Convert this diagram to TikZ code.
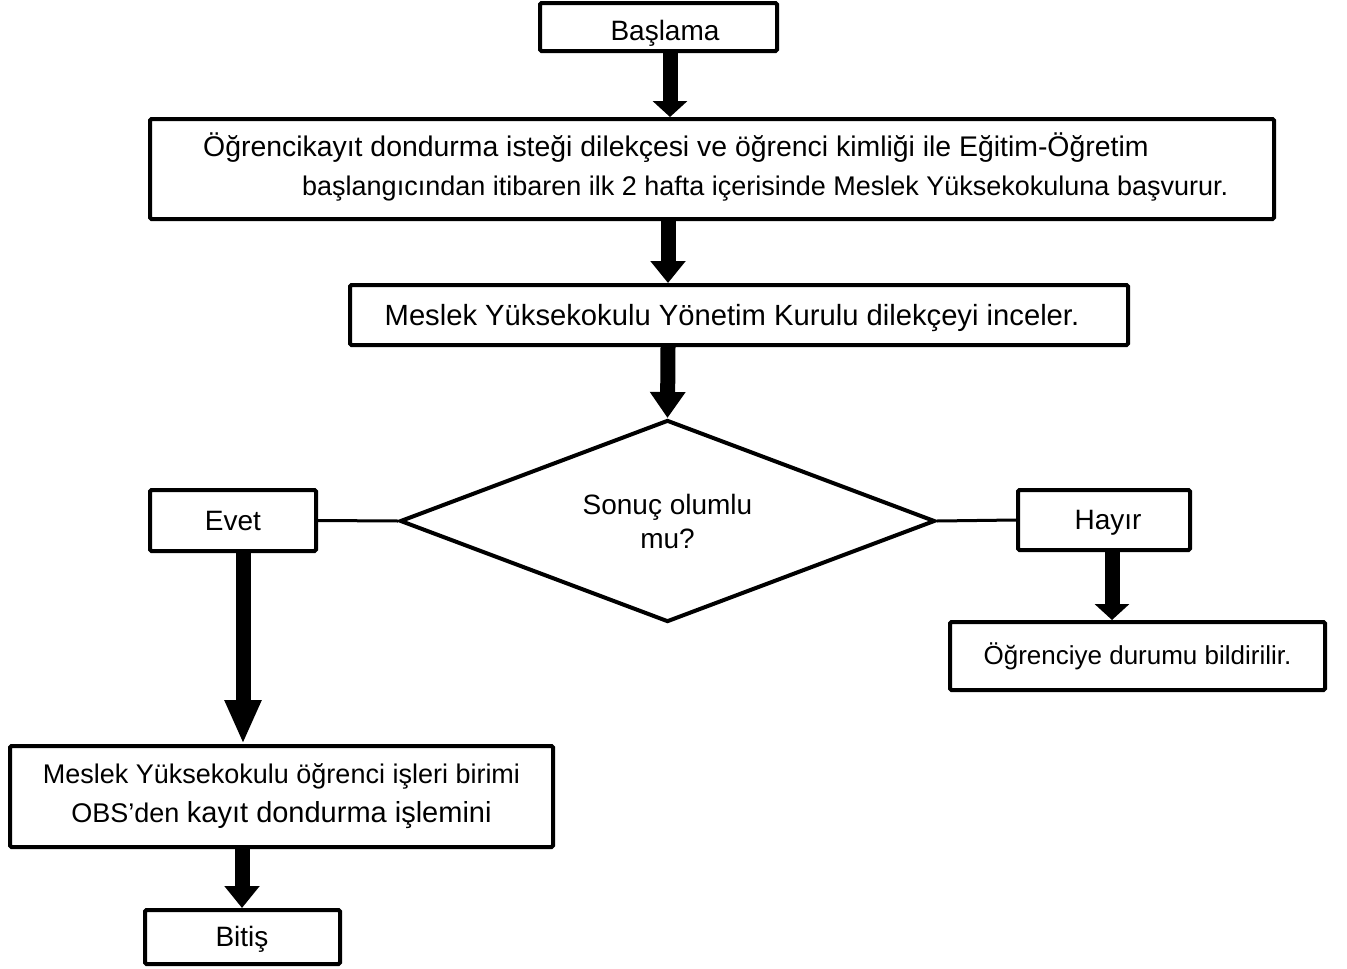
\documentclass[tikz,border=0pt]{standalone}
\usepackage{fontspec}
\setmainfont{Liberation Sans}
\usetikzlibrary{shapes.geometric,arrows.meta}

\tikzset{
  box/.style={draw, line width=4pt, rounded corners=1.5pt, inner sep=0pt, fill=white},
  txt/.style={inner sep=0pt, font=\fontsize{28}{34}\selectfont},
  bigarrow/.style={line width=15pt, -{Triangle[width=34pt, length=#1]}},
  bigarrow/.default=22pt,
  link/.style={line width=3pt}
}

\begin{document}
\begin{tikzpicture}[x=1pt,y=1pt,yscale=-1,xscale=1]
\useasboundingbox (0,0) rectangle (1347,969);

%Shape: Rectangle [start]
\node[box, minimum width=237, minimum height=48] (start) at (658.5,27) {};
% Text Node
\node[txt] (starttext) at (665,33) {Başlama};
%Shape: Rectangle [request]
\node[box, minimum width=1124, minimum height=100] (request) at (712,169) {};
% Text Node
\node[txt, anchor=west, font=\fontsize{28.4}{33}\selectfont] (req1) at (203,148) {Öğrencikayıt dondurma isteği dilekçesi ve öğrenci kimliği ile Eğitim-Öğretim};
% Text Node
\node[txt, anchor=west, font=\fontsize{27}{32}\selectfont] (req2) at (302,189) {başlangıcından itibaren ilk 2 hafta içerisinde Meslek Yüksekokuluna başvurur.};
%Shape: Rectangle [review]
\node[box, minimum width=778, minimum height=60] (review) at (739,315) {};
% Text Node
\node[txt, font=\fontsize{29.2}{34}\selectfont] (revtext) at (732,318) {Meslek Yüksekokulu Yönetim Kurulu dilekçeyi inceler.};
%Shape: Diamond [decision]
\node[box, rounded corners=0pt, diamond, minimum width=535, minimum height=202, aspect=2.65, txt, align=center] (decision) at (667.5,521) {Sonuç olumlu\\mu?};
%Shape: Rectangle [yes]
\node[box, minimum width=166, minimum height=61, txt] (yes) at (233,520.5) {Evet};
%Shape: Rectangle [no]
\node[box, minimum width=172, minimum height=60] (no) at (1104,520) {};
% Text Node
\node[txt] (notext) at (1108,523) {Hayır};
%Shape: Rectangle [notify]
\node[box, minimum width=375, minimum height=68, txt, font=\fontsize{26}{31}\selectfont] (notify) at (1137.5,656) {Öğrenciye durumu bildirilir.};
%Shape: Rectangle [record]
\node[box, minimum width=543, minimum height=101, txt, align=center, font=\fontsize{27}{39}\selectfont] (record) at (281.5,796.5) {Meslek Yüksekokulu öğrenci işleri birimi\\OBS’den {\fontsize{29}{39}\selectfont kayıt dondurma işlemini}};
%Shape: Rectangle [finish]
\node[box, minimum width=195, minimum height=54] (finish) at (242.5,937) {};
% Text Node
\node[txt] (fintext) at (242,939) {Bitiş};

%Straight Lines
\draw[bigarrow=16pt] (670,0 |- start.south) -- (670,0 |- request.north);
\draw[bigarrow] (668,0 |- request.south) -- (668,0 |- review.north);
\draw[bigarrow=26pt] (668,0 |- review.south) -- (decision.north);
\draw[link] (decision.west) -- (yes.east);
\draw[link] (decision.east) -- (no.west);
\draw[bigarrow=44pt] (243,0 |- yes.south) -- (243,0 |- record.north);
\draw[bigarrow=16pt] (1112,0 |- no.south) -- (1112,0 |- notify.north);
\draw[bigarrow] (242,0 |- record.south) -- (242,0 |- finish.north);

\end{tikzpicture}
\end{document}
